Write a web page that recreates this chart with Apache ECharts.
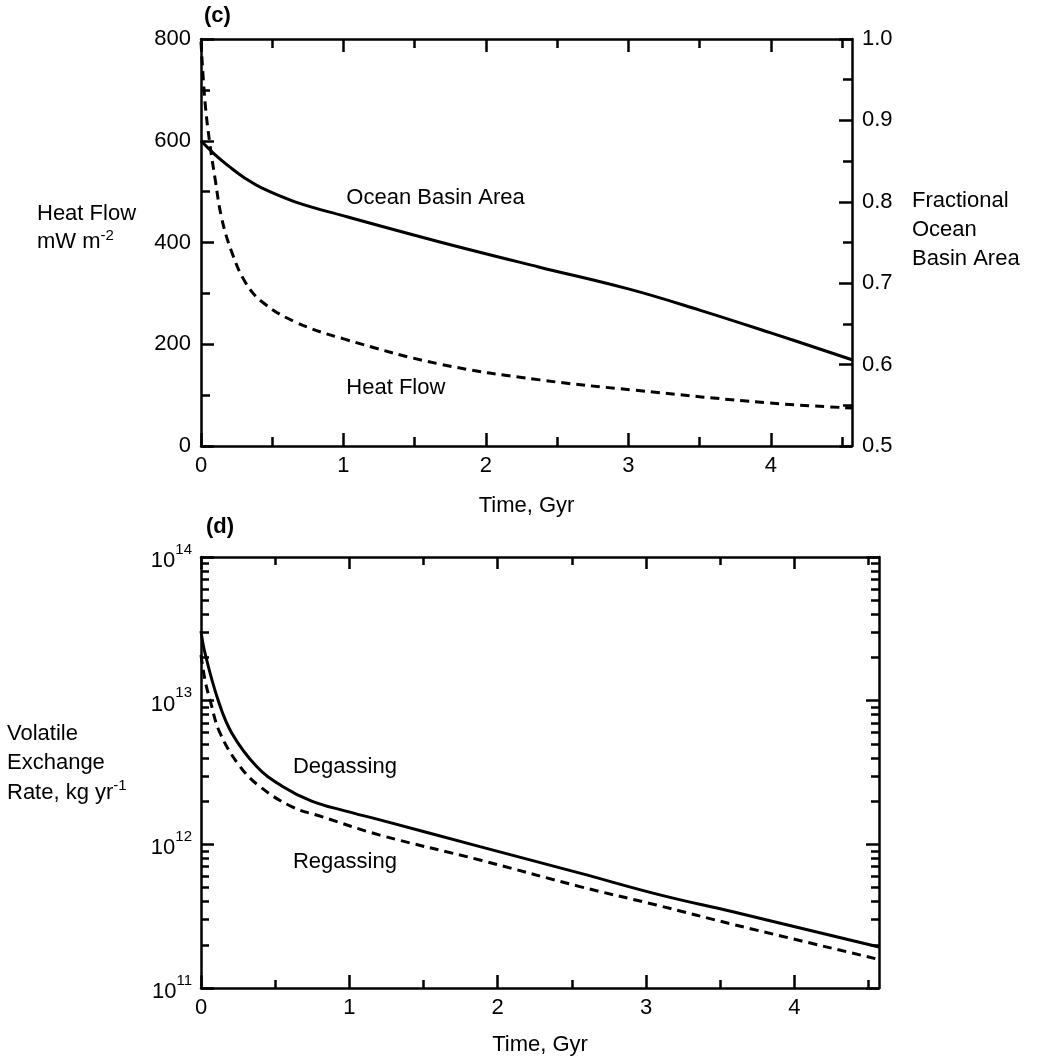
<!DOCTYPE html>
<html>
<head>
<meta charset="utf-8">
<script src="https://cdn.jsdelivr.net/npm/echarts@6/dist/echarts.min.js"></script>
<style>
  html, body { margin: 0; padding: 0; background: #fff; }
  #chart { width: 1037px; height: 1061px; }
</style>
</head>
<body>
<div id="chart"></div>
<script>
const FONT = '"Liberation Sans", Arial, Helvetica, sans-serif';

// ---- Panel (c): ocean basin area and heat flow vs time (Gyr) ----
const basinTime = [0, 0.098, 0.215, 0.309, 0.426, 0.66, 0.996, 1.67, 2.37, 3.0, 3.5, 4.0, 4.57];
const basinArea = [0.875, 0.858, 0.841, 0.829, 0.817, 0.800, 0.783, 0.751, 0.72, 0.693, 0.667, 0.639, 0.606];

const heatTime = [0, 0.028, 0.063, 0.098, 0.145, 0.215, 0.309, 0.426, 0.66, 0.996, 1.677, 2.379, 3.032, 3.993, 4.57];
const heatFlow = [795, 677, 592, 527, 448, 382, 323, 284, 244, 211, 161, 130, 110, 84.5, 74.7];

// ---- Panel (d): volatile exchange rates, kg/yr ----
const degasTime = [0, 0.027, 0.115, 0.207, 0.375, 0.544, 0.746, 0.97, 1.206, 1.88, 2.554, 3.093, 3.585, 4.57];
const degasRate = [3.05e13, 2.14e13, 1.01e13, 5.96e12, 3.48e12, 2.55e12, 2.00e12, 1.71e12, 1.48e12, 9.64e11, 6.30e11, 4.45e11, 3.39e11, 1.93e11];

const regasTime = [0, 0.027, 0.061, 0.128, 0.263, 0.398, 0.611, 0.813, 1.206, 1.88, 2.554, 3.07, 3.6, 4.57];
const regasRate = [2.08e13, 1.39e13, 1.01e13, 5.96e12, 3.48e12, 2.52e12, 1.83e12, 1.56e12, 1.16e12, 7.78e11, 5.08e11, 3.78e11, 2.75e11, 1.58e11];

// ---- Axis ticks ----
const timeMax = 4.57;
const timeMajorTicks = [0, 1, 2, 3, 4];
const timeMinorTicks = [0.5, 1.5, 2.5, 3.5, 4.5];
const logDecades = [11, 12, 13];
const logMantissas = [2, 3, 4, 5, 6, 7, 8, 9];
const logMinorTicks = [];
logDecades.forEach(d => logMantissas.forEach(m => logMinorTicks.push(m * Math.pow(10, d))));

// ---- In-plot annotations [time, value, text] ----
const labelsC = [[1.02, 487, 'Ocean Basin Area'], [1.02, 114, 'Heat Flow']];
const labelsD = [[0.62, 3.47e12, 'Degassing'], [0.62, 7.6e11, 'Regassing']];

const zip = (xs, ys) => xs.map((x, i) => [x, ys[i]]);

const BLACK = '#000';
const lineW = 2.5;
const textBase = { color: BLACK, fontFamily: FONT, fontSize: 22 };

function xAx(grid, pos, ticks, len, opts) {
  opts = opts || {};
  return Object.assign({
    gridIndex: grid, type: 'value', min: 0, max: timeMax, position: pos,
    axisLine: { show: !!opts.line, onZero: false, lineStyle: { color: BLACK, width: lineW } },
    axisTick: { show: true, inside: true, length: len, customValues: ticks, lineStyle: { color: BLACK, width: lineW } },
    axisLabel: opts.labels ? Object.assign({ show: true, customValues: opts.labels, margin: 9 }, textBase) : { show: false },
    splitLine: { show: false }
  }, opts.extra || {});
}

function logAx(pos, ticks, len, opts) {
  opts = opts || {};
  const ax = {
    gridIndex: 1, type: 'log', logBase: 10, min: 1e11, max: 1e14, position: pos,
    axisLine: { show: !!opts.line, onZero: false, lineStyle: { color: BLACK, width: lineW } },
    axisTick: { show: true, inside: true, length: len, lineStyle: { color: BLACK, width: lineW } },
    axisLabel: { show: false },
    splitLine: { show: false }
  };
  if (ticks) ax.axisTick.customValues = ticks;
  if (opts.labels) {
    ax.axisLabel = {
      show: true, margin: 9,
      formatter: v => '{b|10}{s|' + Math.round(Math.log10(v)) + '}',
      rich: {
        b: Object.assign({ lineHeight: 30, verticalAlign: 'bottom' }, textBase),
        s: { color: BLACK, fontFamily: FONT, fontSize: 15, lineHeight: 15, verticalAlign: 'top' }
      }
    };
  }
  return ax;
}

const nameStyle = Object.assign({}, textBase);

function curve(name, xi, yi, xs, ys, dashed) {
  return {
    name: name, type: 'line', xAxisIndex: xi, yAxisIndex: yi,
    data: zip(xs, ys), showSymbol: false, smooth: 0.4, silent: true,
    lineStyle: { color: BLACK, width: 3, type: dashed ? [9, 6] : 'solid' }
  };
}

function notes(xi, yi, data) {
  return {
    type: 'scatter', xAxisIndex: xi, yAxisIndex: yi, symbolSize: 0, silent: true,
    itemStyle: { opacity: 1 },
    data: data,
    label: Object.assign({ show: true, opacity: 1, position: 'right', distance: 0, formatter: p => p.value[2] }, textBase)
  };
}

const option = {
  backgroundColor: '#fff',
  animation: false,
  grid: [
    { left: 201, top: 39, width: 651, height: 407 },
    { left: 201, top: 557, width: 678, height: 431 }
  ],
  xAxis: [
    xAx(0, 'bottom', timeMajorTicks, 13, { line: true, labels: timeMajorTicks,
      extra: { name: 'Time, Gyr', nameLocation: 'middle', nameGap: 49, nameTextStyle: nameStyle } }),
    xAx(0, 'bottom', timeMinorTicks, 9),
    xAx(0, 'top', timeMajorTicks, 13, { line: true }),
    xAx(0, 'top', timeMinorTicks, 9),
    xAx(1, 'bottom', timeMajorTicks, 13, { line: true, labels: timeMajorTicks,
      extra: { name: 'Time, Gyr', nameLocation: 'middle', nameGap: 46, nameTextStyle: nameStyle } }),
    xAx(1, 'bottom', timeMinorTicks, 8),
    xAx(1, 'top', timeMajorTicks, 12, { line: true }),
    xAx(1, 'top', timeMinorTicks, 8)
  ],
  yAxis: [
    {
      gridIndex: 0, type: 'value', min: 0, max: 800, interval: 200, position: 'left',
      axisLine: { show: true, onZero: false, lineStyle: { color: BLACK, width: lineW } },
      axisTick: { show: true, inside: true, length: 13, lineStyle: { color: BLACK, width: lineW } },
      minorTick: { show: true, splitNumber: 2, length: 9, lineStyle: { color: BLACK, width: lineW } },
      axisLabel: Object.assign({ margin: 10 }, textBase),
      splitLine: { show: false }
    },
    {
      gridIndex: 0, type: 'value', min: 0.5, max: 1.0, interval: 0.1, position: 'right',
      axisLine: { show: true, onZero: false, lineStyle: { color: BLACK, width: lineW } },
      axisTick: { show: true, inside: true, length: 13, lineStyle: { color: BLACK, width: lineW } },
      minorTick: { show: true, splitNumber: 2, length: 9, lineStyle: { color: BLACK, width: lineW } },
      axisLabel: Object.assign({ margin: 10, formatter: v => v.toFixed(1) }, textBase),
      splitLine: { show: false }
    },
    logAx('left', null, 13, { line: true, labels: true }),
    logAx('left', logMinorTicks, 8),
    logAx('right', null, 13, { line: true }),
    logAx('right', logMinorTicks, 8)
  ],
  graphic: [
    { type: 'text', left: 204, top: 5, style: { text: '(c)', fill: BLACK, font: 'bold 22px ' + FONT } },
    { type: 'text', left: 206, top: 516, style: { text: '(d)', fill: BLACK, font: 'bold 22px ' + FONT } },
    { type: 'text', left: 37, top: 200, style: {
        text: 'Heat Flow\nmW m{s|-2}', fill: BLACK, fontFamily: FONT, fontSize: 22, lineHeight: 28,
        rich: { s: { fill: BLACK, fontFamily: FONT, fontSize: 15, lineHeight: 15, verticalAlign: 'top' } } } },
    { type: 'text', left: 912, top: 186, style: {
        text: 'Fractional\nOcean\nBasin Area', fill: BLACK, fontFamily: FONT, fontSize: 22, lineHeight: 29 } },
    { type: 'text', left: 7, top: 719, style: {
        text: 'Volatile\nExchange\nRate, kg yr{s|-1}', fill: BLACK, fontFamily: FONT, fontSize: 22, lineHeight: 29.5,
        rich: { s: { fill: BLACK, fontFamily: FONT, fontSize: 15, lineHeight: 15, verticalAlign: 'top' } } } }
  ],
  series: [
    curve('Ocean Basin Area', 0, 1, basinTime, basinArea, false),
    curve('Heat Flow', 0, 0, heatTime, heatFlow, true),
    curve('Degassing', 4, 2, degasTime, degasRate, false),
    curve('Regassing', 4, 2, regasTime, regasRate, true),
    notes(0, 0, labelsC),
    notes(4, 2, labelsD)
  ]
};

const chart = echarts.init(document.getElementById('chart'), null, { renderer: 'canvas' });
chart.setOption(option);
</script>
</body>
</html>
